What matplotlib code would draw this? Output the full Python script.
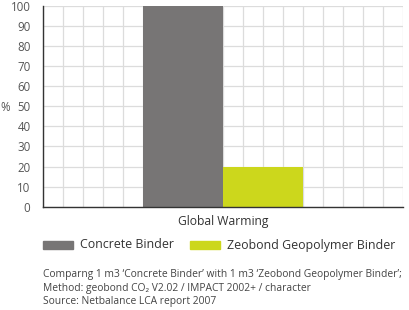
import matplotlib
matplotlib.use("Agg")
from matplotlib import pyplot as plt

plt.rcParams['font.family'] = ['Open Sans', 'DejaVu Sans']

category = "Global Warming"
series_names = ["Concrete Binder", "Zeobond Geopolymer Binder"]
series_values = [100, 20]
colors = ["#777575", "#ccd71c"]
y_ticks = [0, 10, 20, 30, 40, 50, 60, 70, 80, 90, 100]
notes = [
    "Comparng 1 m3 \u2018Concrete Binder\u2019 with 1 m3 \u2018Zeobond Geopolymer Binder\u2019;",
    "Method: geobond CO\u2082 V2.02 / IMPACT 2002+ / character",
    "Source: Netbalance LCA report 2007",
]

fig = plt.figure(figsize=(4.09, 3.10), dpi=100)
ax = fig.add_axes([43 / 409, 103.3 / 310, 360 / 409, 200.7 / 310])

# category sits in the middle of an 18-unit wide axis, bars are 4 units wide
center = 9
bw = 4
for i, (name, v) in enumerate(zip(series_names, series_values)):
    x = center - bw / 2 + i * bw
    ax.bar(x, v, width=bw, color=colors[i], align='center', zorder=3, label=name)

ax.set_xlim(0, 18)
ax.set_ylim(0, 100)
ax.set_xticks(range(0, 19))
ax.set_yticks(y_ticks)
ax.tick_params(axis='x', length=0, labelbottom=False)
ax.tick_params(axis='y', length=0, labelsize=8.3, labelcolor='#555555', pad=9)
ax.grid(True, color='#dcdcdc', linewidth=0.9, zorder=0)
for s in ['top', 'right']:
    ax.spines[s].set_visible(False)
for s in ['left', 'bottom']:
    ax.spines[s].set_color('#333333')
    ax.spines[s].set_linewidth(1.0)
    ax.spines[s].set_zorder(4)

fig.text(0 / 409, 1 - 107 / 310, "%", fontsize=8.3, color='#555555', va='center', ha='left')
fig.text(223 / 409, 1 - 221 / 310, category, fontsize=8.7, color='#333333', va='center', ha='center')

# legend drawn by hand to match the layout
leg_y = 1 - 245 / 310
for i, name in enumerate(series_names):
    x0 = [43, 190][i] / 409
    fig.patches.append(plt.Rectangle((x0, leg_y - 4 / 310), 30 / 409, 8 / 310,
                                     transform=fig.transFigure, color=colors[i]))
    fig.text(x0 + 37 / 409, leg_y, name, fontsize=8.9, color='#333333', va='center', ha='left')

for j, line in enumerate(notes):
    fig.text(43 / 409, 1 - (275 + 13.3 * j) / 310, line, fontsize=7.4, color='#444444',
             va='center', ha='left')

plt.savefig("out.png", dpi=100)
